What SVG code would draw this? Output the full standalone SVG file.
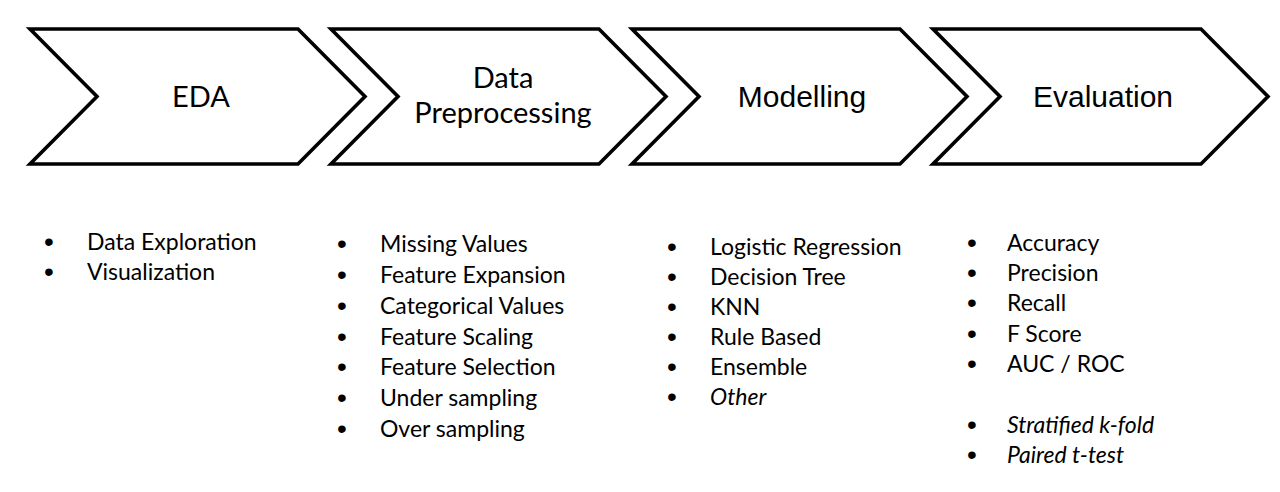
<svg xmlns="http://www.w3.org/2000/svg" width="1280" height="492" viewBox="0 0 1280 492">
<style>
.chev{fill:#fff;stroke:#000;stroke-width:3.6;stroke-linejoin:miter}
.tc{font-family:Lato,"Liberation Sans",sans-serif;font-size:29px;fill:#000;text-anchor:middle}
.ta{font-family:"Liberation Sans",Arial,sans-serif;font-size:30px;fill:#000;text-anchor:middle}
.li{font-family:Lato,"Liberation Sans",sans-serif;font-size:23px;fill:#000}
.bu{font-family:"Liberation Sans",Arial,sans-serif;font-size:28px;fill:#000;text-anchor:middle}
.it{font-style:italic}
</style>
<rect width="1280" height="492" fill="#fff"/>
<defs>
<path id="chev" d="M0,29 H268 L335,96.5 L268,164 H0 L67,96.5 Z"/>
</defs>
<g id="eda">
<use href="#chev" class="chev" x="30"/>
<text class="tc" x="201" y="107">EDA</text>
</g>
<g id="preprocessing">
<use href="#chev" class="chev" x="331"/>
<text class="tc" x="503" y="88">Data</text>
<text class="tc" x="503" y="123">Preprocessing</text>
</g>
<g id="modelling">
<use href="#chev" class="chev" x="632"/>
<text class="ta" x="802" y="107">Modelling</text>
</g>
<g id="evaluation">
<use href="#chev" class="chev" x="933"/>
<text class="ta" x="1103" y="107">Evaluation</text>
</g>
<g id="connectors"></g>
<g id="eda-list" class="li">
<text class="bu" x="49" y="251">•</text><text x="87" y="250">Data Exploration</text>
<text class="bu" x="49" y="281">•</text><text x="87" y="280">Visualization</text>
</g>
<g id="preprocessing-list" class="li">
<text class="bu" x="342" y="253">•</text><text x="380" y="252">Missing Values</text>
<text class="bu" x="342" y="284">•</text><text x="380" y="283">Feature Expansion</text>
<text class="bu" x="342" y="315">•</text><text x="380" y="314">Categorical Values</text>
<text class="bu" x="342" y="346">•</text><text x="380" y="345">Feature Scaling</text>
<text class="bu" x="342" y="376">•</text><text x="380" y="375">Feature Selection</text>
<text class="bu" x="342" y="407">•</text><text x="380" y="406">Under sampling</text>
<text class="bu" x="342" y="438">•</text><text x="380" y="437">Over sampling</text>
</g>
<g id="modelling-list" class="li">
<text class="bu" x="672" y="256">•</text><text x="710" y="255">Logistic Regression</text>
<text class="bu" x="672" y="286">•</text><text x="710" y="285">Decision Tree</text>
<text class="bu" x="672" y="316">•</text><text x="710" y="315">KNN</text>
<text class="bu" x="672" y="346">•</text><text x="710" y="345">Rule Based</text>
<text class="bu" x="672" y="376">•</text><text x="710" y="375">Ensemble</text>
<text class="bu" x="672" y="406">•</text><text x="710" y="405" class="it">Other</text>
</g>
<g id="evaluation-list" class="li">
<text class="bu" x="972" y="252">•</text><text x="1007" y="251">Accuracy</text>
<text class="bu" x="972" y="282">•</text><text x="1007" y="281">Precision</text>
<text class="bu" x="972" y="312">•</text><text x="1007" y="311">Recall</text>
<text class="bu" x="972" y="343">•</text><text x="1007" y="342">F Score</text>
<text class="bu" x="972" y="373">•</text><text x="1007" y="372">AUC / ROC</text>
<text class="bu" x="972" y="434">•</text><text x="1007" y="433" class="it">Stratified k-fold</text>
<text class="bu" x="972" y="464">•</text><text x="1007" y="463" class="it">Paired t-test</text>
</g>
</svg>
